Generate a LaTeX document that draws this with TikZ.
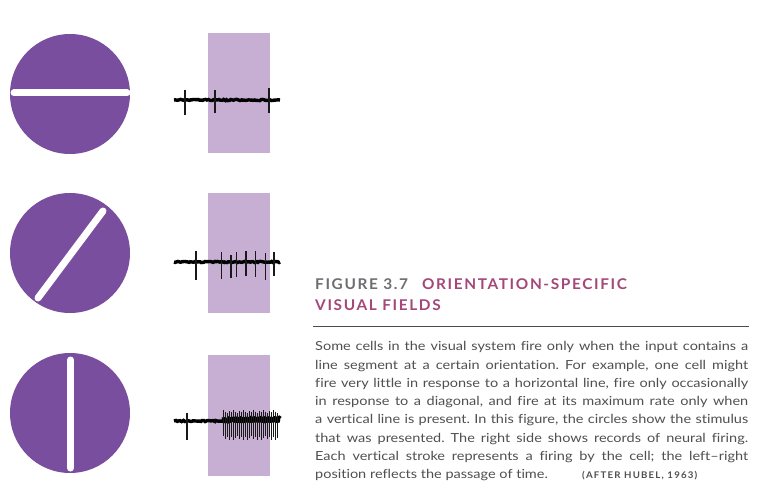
\documentclass[tikz,border=0pt]{standalone}
\usepackage{fontspec}
\setmainfont{Lato}[FakeStretch=1.16,Ligatures=NoCommon]
\newfontfamily\headfont{Lato}[LetterSpace=11.0,FakeStretch=1.04]
\newfontfamily\credfont{Lato}[LetterSpace=13.0,FakeStretch=1.05]
\usetikzlibrary{decorations.pathmorphing}
\definecolor{disc}{HTML}{7A4E9E}
\definecolor{band}{HTML}{C7AFD4}
\definecolor{headmag}{HTML}{A4487A}
\definecolor{headgray}{HTML}{6D6E71}
\definecolor{bodygray}{HTML}{505050}
\newcommand{\jline}[1]{\makebox[433pt][s]{#1}}
\frenchspacing
\begin{document}
\begin{tikzpicture}[x=1pt,y=-1pt,
  discnode/.style={circle,fill=disc,inner sep=0pt,minimum size=120pt},
  stim/.style={white,line width=7pt,line cap=round},
  bandbox/.style={fill=band},
  trace/.style={black,line width=3.4pt,decorate,decoration={random steps,segment length=1.5pt,amplitude=0.6pt}},
  spike/.style={black!90,line width=1.1pt},
  bodytext/.style={anchor=base west,inner sep=0pt,text=bodygray,font=\fontsize{12.5}{18}\selectfont},
  headtext/.style={anchor=base west,inner sep=0pt,font=\headfont\bfseries\fontsize{14.8}{16}\selectfont}]
\useasboundingbox (0,0) rectangle (763,497);
\fill[white] (0,0) rectangle (763,497);
\pgfmathsetseed{7}
% stimuli
\node[discnode] (c1) at (70,94) {};
\draw[stim] (14,93) -- (127,93);
\node[discnode] (c2) at (70,253) {};
\draw[stim] (38,298) -- (103,211);
\node[discnode] (c3) at (70,413) {};
\draw[stim] (70.5,360) -- (70.5,468);
% bands
\fill[bandbox] (208,33) rectangle (270,153);
\fill[bandbox] (208,193) rectangle (270,313);
\fill[bandbox] (208,355) rectangle (270,476);
% trace 1
\draw[trace] (174,100) -- (280,100);
\foreach \x/\a/\b in {185/90/115, 215/90/113, 269/88/113}
  \draw[spike] (\x,\a) -- (\x,\b);
% trace 2
\draw[trace] (174,262) -- (280,262);
\foreach \x/\a/\b in {196/251/280, 221.7/252/279, 231/255/278, 236.7/252/277, 246/251/276, 255.7/251/277, 265.3/253/280, 274/252/276}
  \draw[spike] (\x,\a) -- (\x,\b);
% trace 3
\draw[trace] (174,421) -- (280,421);
\draw[black,line width=5.2pt,decorate,decoration={random steps,segment length=1.5pt,amplitude=0.8pt}] (222,420) -- (280,419);
\draw[spike] (187,413) -- (187,440);
\foreach \i in {0,...,27}{
  \pgfmathsetmacro{\x}{223+\i*2.0}
  \pgfmathsetmacro{\a}{410+mod(\i*7,5)*0.8}
  \pgfmathsetmacro{\b}{436+mod(\i*11,7)*0.7}
  \draw[black!90,line width=0.9pt] (\x,\a) -- (\x,\b);
}
% caption
\node[headtext] (h1) at (315,289) {\textcolor{headgray}{FIGURE 3.7}\hspace{14pt}\textcolor{headmag}{ORIENTATION-SPECIFIC}};
\node[headtext,text=headmag] (h2) at (315,310) {VISUAL FIELDS};
\coordinate (r1) at (313,326);
\coordinate (r2) at (749,326);
\draw[black!70,line width=1pt] (r1) -- (r2);
\node[bodytext] (b1) at (315,350.7) {\jline{Some cells in the visual system fire only when the input contains a}};
\node[bodytext] (b2) at (315,369.0) {\jline{line segment at a certain orientation. For example, one cell might}};
\node[bodytext] (b3) at (315,387.3) {\jline{fire very little in response to a horizontal line, fire only occasionally}};
\node[bodytext] (b4) at (315,405.6) {\jline{in response to a diagonal, and fire at its maximum rate only when}};
\node[bodytext] (b5) at (315,423.9) {\jline{a vertical line is present. In this figure, the circles show the stimulus}};
\node[bodytext] (b6) at (315,442.2) {\jline{that was presented. The right side shows records of neural firing.}};
\node[bodytext] (b7) at (315,460.5) {\jline{Each vertical stroke represents a firing by the cell; the left--right}};
\node[bodytext] (b8) at (315,478.8) {position reflects the passage of time.};
\node[anchor=base west,inner sep=0pt,text=bodygray,font=\credfont\bfseries\fontsize{9.2}{10}\selectfont] (cr) at (582,478.8) {(AFTER HUBEL, 1963)};
\end{tikzpicture}
\end{document}
